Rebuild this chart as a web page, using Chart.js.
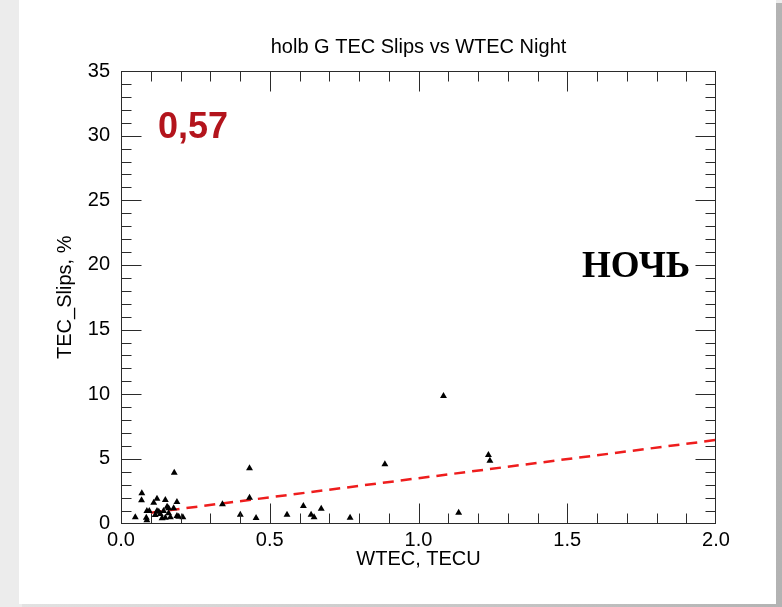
<!DOCTYPE html>
<html>
<head>
<meta charset="utf-8">
<script src="https://cdn.jsdelivr.net/npm/chart.js@4/dist/chart.umd.min.js"></script>
<style>
  html, body { margin: 0; padding: 0; }
  body { width: 782px; height: 607px; background: #ececec; position: relative; overflow: hidden; }
  #shadow { position: absolute; left: 22px; top: 3px; width: 760px; height: 604px;
            background: linear-gradient(to right, #e2e2e2, #b3b3b3); }
  #panel { position: absolute; left: 19px; top: 0; width: 757px; height: 604px; background: #fff; }
  #myChart { position: absolute; left: 0; top: 0; }
</style>
</head>
<body>
<div id="shadow"></div>
<div id="panel"></div>
<canvas id="myChart" width="782" height="607"></canvas>
<script>
// Точки: WTEC (TECU) и TEC Slips (%) — ночь
const wtec = [
    0.048, 0.070, 0.069, 0.087, 0.095, 0.085, 0.087, 0.110, 0.121, 0.149,
    0.188, 0.179, 0.121, 0.115, 0.132, 0.143, 0.155, 0.160, 0.138, 0.149,
    0.166, 0.177, 0.188, 0.194, 0.208, 0.127, 0.160,
    0.341, 0.401, 0.432, 0.432, 0.454, 0.558, 0.613, 0.639, 0.649, 0.673,
    0.770, 0.887, 1.084, 1.135, 1.235, 1.240
];
const slips = [
    0.48, 2.34, 1.79, 0.97, 0.97, 0.45, 0.25, 1.61, 1.92, 1.82,
    1.66, 3.93, 0.97, 0.66, 0.73, 0.97, 1.30, 1.17, 0.40, 0.45,
    0.48, 1.17, 0.58, 0.53, 0.48, 0.90, 0.80,
    1.48, 0.68, 4.27, 2.00, 0.43, 0.68, 1.35, 0.68, 0.48, 1.14,
    0.45, 4.58, 9.86, 0.84, 5.30, 4.86
];

// Линия регрессии (концы)
const fitX = [0.1, 2.0];
const fitY = [0.84, 6.46];

// Оси
const xMin = 0, xMax = 2, xMajor = 0.5, xMinor = 0.1;
const yMin = 0, yMax = 35, yMajor = 5, yMinor = 1;

const titleText = 'holb G TEC Slips vs WTEC Night';
const corrText = '0,57';
const nightText = 'НОЧЬ';

const font = '"Liberation Sans", Arial, Helvetica, sans-serif';

// Рамка, засечки внутрь со всех сторон, заголовок и надписи
const framePlugin = {
    id: 'frame',
    afterDraw(chart) {
        const c = chart.ctx;
        const a = chart.chartArea;
        const sx = chart.scales.x, sy = chart.scales.y;
        const L = Math.round(a.left) + 0.5, R = Math.round(a.right) - 0.5;
        const T = Math.round(a.top) + 0.5, B = Math.round(a.bottom) - 0.5;
        c.save();
        c.strokeStyle = '#2b2b2b';
        c.lineWidth = 1;
        c.strokeRect(L, T, R - L, B - T);

        c.beginPath();
        const nx = Math.round((xMax - xMin) / xMinor);
        for (let i = 0; i <= nx; i++) {
            const v = xMin + i * xMinor;
            const len = (i % Math.round(xMajor / xMinor) === 0) ? 20 : 10;
            const px = Math.min(R, Math.max(L, Math.round(sx.getPixelForValue(v)) + 0.5));
            c.moveTo(px, B); c.lineTo(px, B - len);
            c.moveTo(px, T); c.lineTo(px, T + len);
        }
        const ny = Math.round((yMax - yMin) / yMinor);
        for (let i = 0; i <= ny; i++) {
            const v = yMin + i * yMinor;
            const len = (i % Math.round(yMajor / yMinor) === 0) ? 20 : 10;
            const py = Math.min(B, Math.max(T, Math.round(sy.getPixelForValue(v)) + 0.5));
            c.moveTo(L, py); c.lineTo(L + len, py);
            c.moveTo(R, py); c.lineTo(R - len, py);
        }
        c.stroke();

        // заголовок
        c.fillStyle = '#000';
        c.font = '20px ' + font;
        c.textAlign = 'center';
        c.textBaseline = 'alphabetic';
        c.fillText(titleText, (a.left + a.right) / 2, 53);

        // коэффициент корреляции
        c.fillStyle = '#b3141c';
        c.font = 'bold 36px ' + font;
        c.textAlign = 'left';
        c.fillText(corrText, 158, 138);

        // НОЧЬ
        c.fillStyle = '#000';
        c.font = 'bold 37px "Liberation Serif", "Times New Roman", serif';
        c.fillText(nightText, 582, 277);
        c.restore();
    }
};

const ctx = document.getElementById('myChart').getContext('2d');
const myChart = new Chart(ctx, {
    type: 'scatter',
    data: {
        datasets: [{
            label: 'TEC Slips',
            data: wtec.map((x, i) => ({ x: x, y: slips[i] })),
            pointStyle: 'triangle',
            pointRadius: 4,
            backgroundColor: '#000',
            borderColor: '#000',
            borderWidth: 0
        }, {
            type: 'line',
            label: 'fit',
            data: fitX.map((x, i) => ({ x: x, y: fitY[i] })),
            borderColor: '#ee1d1d',
            borderWidth: 2.5,
            borderDash: [11, 7],
            pointRadius: 0,
            fill: false
        }]
    },
    options: {
        responsive: false,
        animation: false,
        layout: { padding: { left: 0, top: 71, right: 66, bottom: 0 } },
        plugins: { legend: { display: false }, tooltip: { enabled: false } },
        scales: {
            x: {
                type: 'linear', min: xMin, max: xMax,
                grid: { display: false, drawTicks: false },
                border: { display: false },
                ticks: {
                    stepSize: xMajor, maxRotation: 0, padding: 5, color: '#000',
                    font: { family: font, size: 20 },
                    callback: v => v.toFixed(1)
                },
                title: {
                    display: true, text: 'WTEC, TECU', color: '#000',
                    font: { family: font, size: 20 }, padding: { top: 0, bottom: 36 }
                },
                afterFit: s => { s.height = 83.5; }
            },
            y: {
                type: 'linear', min: yMin, max: yMax,
                grid: { display: false, drawTicks: false },
                border: { display: false },
                ticks: {
                    stepSize: yMajor, padding: 11, color: '#000',
                    font: { family: font, size: 20 }
                },
                title: {
                    display: true, text: 'TEC_Slips, %', color: '#000',
                    font: { family: font, size: 20 }, padding: { top: 53, bottom: 0 }
                },
                afterFit: s => { s.width = 121; }
            }
        }
    },
    plugins: [framePlugin]
});
</script>
</body>
</html>
